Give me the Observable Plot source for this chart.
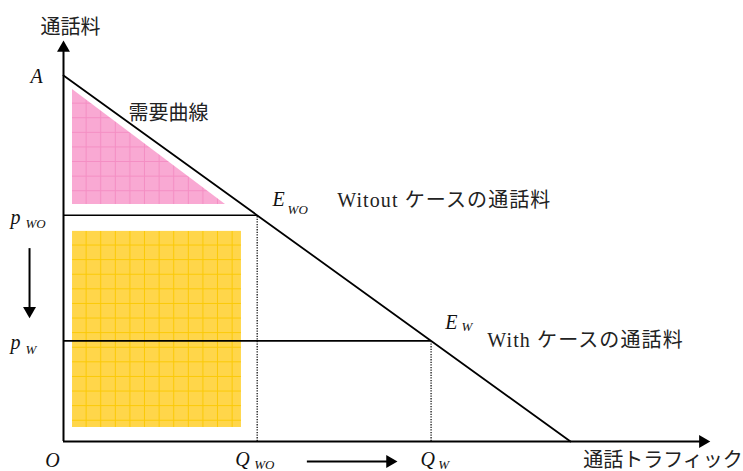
<!DOCTYPE html>
<html><head><meta charset="utf-8">
<script src="https://cdn.jsdelivr.net/npm/d3@7"></script>
<script src="https://cdn.jsdelivr.net/npm/@observablehq/plot@0.6"></script>
<style>body{margin:0;background:#fff}</style>
</head><body><div id="chart"></div>
<script>
// Demand curve: price from A (q=0) down to the quantity intercept
const demandQ = [0, 100];
const demandP = [100, 0];
// Equilibria: without / with case
const eqQ = [38.2, 72.5];
const eqP = [61.8, 27.5];
// Axis extents (data units)
const axisMaxQ = [126.1];
const axisMaxP = [107.5];
// Consumer surplus triangle (pink) and revenue rectangle (yellow)
const triQ = [1.78, 1.78, 31.95];
const triP = [96.17, 64.75, 64.75];
const rectQ = [1.78, 35.1];
const rectP = [3.83, 57.4];
// Price-change arrow (left) and quantity-change arrow (bottom)
const priceArrowQ = [-6.7];
const priceArrowP = [52.7, 35.7];
const qtyArrowP = [-5.46];
const qtyArrowQ = [48.1, 64.4];

// Text labels
const jpTexts = ["通話料", "需要曲線", "Witout ケースの通話料", "With ケースの通話料", "通話トラフィック"];
const jpQ = [1.4, 20.7, 54.0, 83.6, 102.5];
const jpP = [113.2, 89.7, 65.8, 27.7, -5.2];
const jpAnchor = ["middle", "middle", "spaced", "spaced", "start"];

const symTexts = ["A", "p", "p", "O", "Q", "Q", "E", "E"];
const symQ = [-5.3, -10.45, -10.45, -2.17, 33.9, 70.4, 41.2, 75.3];
const symP = [99.6, 61.3, 27.0, -5.2, -4.9, -4.9, 66.0, 32.6];
const symAnchor = ["middle", "start", "start", "middle", "start", "start", "start", "start"];

const subTexts = ["WO", "W", "WO", "W", "WO", "W"];
const subQ = [-7.5, -7.5, 37.6, 73.9, 44.2, 78.5];
const subP = [59.4, 25.0, -6.3, -6.3, 63.2, 31.4];

const demand = demandQ.map((q, i) => ({q, p: demandP[i]}));
const eq = eqQ.map((q, i) => ({q, p: eqP[i]}));
const tri = [
  {q: triQ[0], p1: triP[1], p2: triP[0]},
  {q: triQ[2], p1: triP[2], p2: triP[2]}
];
const jp = jpTexts.map((t, i) => ({t, q: jpQ[i], p: jpP[i], a: jpAnchor[i]}));
const sym = symTexts.map((t, i) => ({t, q: symQ[i], p: symP[i], a: symAnchor[i]}));
const sub = subTexts.map((t, i) => ({t, q: subQ[i], p: subP[i]}));

const serif = "'Liberation Serif', 'DejaVu Serif', serif";
const jpFont = "'Liberation Serif', 'Noto Sans CJK JP', sans-serif";

const plot = Plot.plot({
  width: 743,
  height: 471,
  margin: 0,
  style: {background: "white", overflow: "visible"},
  x: {domain: [0, 100], range: [63, 570], axis: null},
  y: {domain: [0, 100], range: [441, 75], axis: null},
  marks: [
    Plot.areaY(tri, {x: "q", y1: "p1", y2: "p2", fill: "url(#pinkGrid)", curve: "linear"}),
    Plot.rect([{}], {x1: rectQ[0], x2: rectQ[1], y1: rectP[0], y2: rectP[1], fill: "url(#yellowGrid)"}),
    // dotted drop lines
    Plot.ruleX(eq, {x: "q", y1: 0, y2: "p", stroke: "black", strokeWidth: 1.2, strokeDasharray: "1.3,1.3"}),
    // horizontal price lines
    Plot.ruleY(eq, {y: "p", x1: 0, x2: "q", stroke: "black", strokeWidth: 1.6}),
    // demand curve
    Plot.line(demand, {x: "q", y: "p", stroke: "black", strokeWidth: 1.8}),
    // axes
    Plot.ruleX([0], {y1: 0, y2: axisMaxP[0], stroke: "black", strokeWidth: 2}),
    Plot.ruleY([0], {x1: 0, x2: axisMaxQ[0], stroke: "black", strokeWidth: 2}),
    Plot.dot([{q: 0, p: axisMaxP[0]}], {x: "q", y: "p", symbol: "triangle", r: 4.8, fill: "black", stroke: "none", rotate: 0}),
    Plot.dot([{q: axisMaxQ[0], p: 0}], {x: "q", y: "p", symbol: "triangle", r: 4.8, fill: "black", stroke: "none", rotate: 90}),
    // change arrows
    Plot.ruleX(priceArrowQ, {x: d => d, y1: priceArrowP[0], y2: priceArrowP[1], stroke: "black", strokeWidth: 2}),
    Plot.dot(priceArrowQ, {x: d => d, y: priceArrowP[1], symbol: "triangle", r: 4.8, fill: "black", stroke: "none", rotate: 180}),
    Plot.ruleY(qtyArrowP, {y: d => d, x1: qtyArrowQ[0], x2: qtyArrowQ[1], stroke: "black", strokeWidth: 2}),
    Plot.dot(qtyArrowP, {y: d => d, x: qtyArrowQ[1], symbol: "triangle", r: 4.8, fill: "black", stroke: "none", rotate: 90}),
    // labels
    Plot.text(jp, {x: "q", y: "p", text: "t", textAnchor: "start", filter: d => d.a === "spaced", fontSize: 20, fontFamily: jpFont, fill: "#222"}),
    Plot.text(jp, {x: "q", y: "p", text: "t", textAnchor: "start", filter: d => d.a === "start", fontSize: 20, fontFamily: jpFont, fill: "#222"}),
    Plot.text(jp, {x: "q", y: "p", text: "t", textAnchor: "middle", filter: d => d.a === "middle", fontSize: 20, fontFamily: jpFont, fill: "#222"}),
    Plot.text(sym, {x: "q", y: "p", text: "t", textAnchor: "start", filter: d => d.a === "start", fontSize: 20, fontFamily: serif, fontStyle: "italic", fill: "#111"}),
    Plot.text(sym, {x: "q", y: "p", text: "t", textAnchor: "middle", filter: d => d.a === "middle", fontSize: 20, fontFamily: serif, fontStyle: "italic", fill: "#111"}),
    Plot.text(sub, {x: "q", y: "p", text: "t", textAnchor: "start", fontSize: 13, fontFamily: serif, fontStyle: "italic", fill: "#111"})
  ]
});

// Slight letter spacing on the two case labels (first text mark)
const textGroups = plot.querySelectorAll('g[aria-label="text"]');
textGroups[0].setAttribute("letter-spacing", "1.1");

// Grid-pattern fills anchored to the shapes' corners via the plot's scales
const sx = plot.scale("x"), sy = plot.scale("y");
const ns = "http://www.w3.org/2000/svg";
const defs = document.createElementNS(ns, "defs");
function grid(id, ox, oy, bg, line) {
  const s = 14.6;
  const pat = document.createElementNS(ns, "pattern");
  pat.setAttribute("id", id);
  pat.setAttribute("patternUnits", "userSpaceOnUse");
  pat.setAttribute("x", ox);
  pat.setAttribute("y", oy);
  pat.setAttribute("width", s);
  pat.setAttribute("height", s);
  const r = document.createElementNS(ns, "rect");
  r.setAttribute("width", s); r.setAttribute("height", s); r.setAttribute("fill", bg);
  const p = document.createElementNS(ns, "path");
  p.setAttribute("d", `M${s - 0.5},0V${s}M0,${s - 0.5}H${s}`);
  p.setAttribute("stroke", line); p.setAttribute("stroke-width", 1); p.setAttribute("fill", "none");
  pat.appendChild(r); pat.appendChild(p);
  defs.appendChild(pat);
}
grid("pinkGrid", sx.apply(triQ[0]), sy.apply(triP[0]), "#F9A9D3", "#F48EC3");
grid("yellowGrid", sx.apply(rectQ[0]), sy.apply(rectP[1]), "#FFD64A", "#FBC905");
plot.insertBefore(defs, plot.firstChild);

document.getElementById("chart").appendChild(plot);
</script>
</body></html>
